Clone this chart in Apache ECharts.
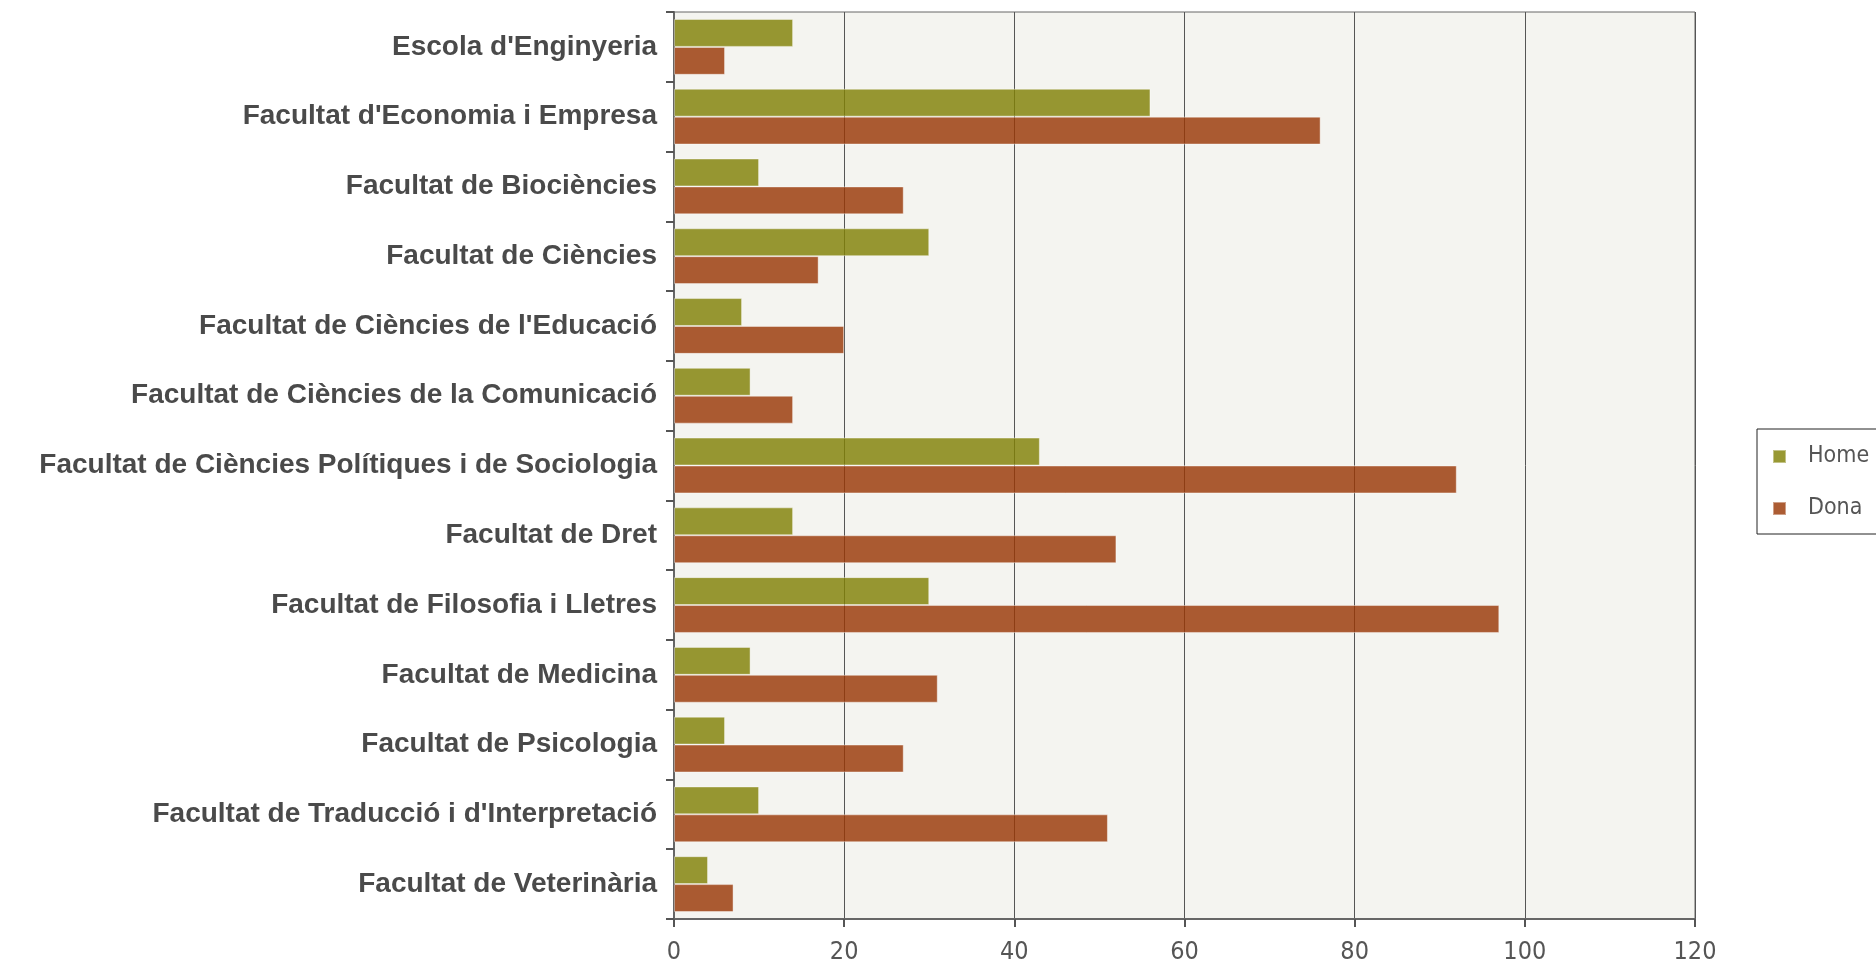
<!DOCTYPE html>
<html><head><meta charset="utf-8">
<script src="https://cdn.jsdelivr.net/npm/echarts@6/dist/echarts.min.js"></script>
<style>html,body{margin:0;padding:0;background:#fff}#c{width:1876px;height:966px}</style>
</head><body><div id="c"></div>
<script>
const categories = ["Escola d'Enginyeria","Facultat d'Economia i Empresa","Facultat de Biociències","Facultat de Ciències","Facultat de Ciències de l'Educació","Facultat de Ciències de la Comunicació","Facultat de Ciències Polítiques i de Sociologia","Facultat de Dret","Facultat de Filosofia i Lletres","Facultat de Medicina","Facultat de Psicologia","Facultat de Traducció i d'Interpretació","Facultat de Veterinària"];
const home = [14,56,10,30,8,9,43,14,30,9,6,10,4];
const dona = [6,76,27,17,20,14,92,52,97,31,27,51,7];
const xTicks = [0,20,40,60,80,100,120];

const chart = echarts.init(document.getElementById('c'), null, {renderer:'canvas'});
const barStyle = (c) => ({color:c, opacity:0.82, borderColor:'rgba(255,255,255,0.5)', borderWidth:1});
chart.setOption({
  animation:false,
  backgroundColor:'#ffffff',
  grid:{left:674,right:181,top:12,bottom:47,show:true,backgroundColor:'#f4f4f0',borderColor:'#666',borderWidth:1,containLabel:false},
  legend:{
    orient:'vertical',left:1757,top:429,
    data:['Home','Dona'],
    icon:'rect',itemWidth:13,itemHeight:13,itemGap:29,
    padding:[16,20,14,15],
    borderColor:'#222',borderWidth:1,
    textStyle:{fontFamily:'DejaVu Sans Condensed',fontSize:23,color:'#555',lineHeight:23,padding:[0,0,0,17]}
  },
  xAxis:{
    type:'value',min:xTicks[0],max:xTicks[xTicks.length-1],interval:20,
    axisLine:{show:true,lineStyle:{color:'#666',width:2}},
    axisTick:{show:true,length:8,lineStyle:{color:'#555',width:2}},
    splitLine:{show:true,lineStyle:{color:'#555',width:1}},
    axisLabel:{fontFamily:'DejaVu Sans Condensed',fontSize:25,color:'#555',margin:21}
  },
  yAxis:{
    type:'category',data:categories,inverse:true,
    axisLine:{show:true,lineStyle:{color:'#666',width:2}},
    axisTick:{show:true,length:8,lineStyle:{color:'#555',width:2}},
    axisLabel:{fontFamily:'Liberation Sans',fontWeight:'bold',fontSize:28,color:'#4a4a4a',margin:17}
  },
  series:[
    {name:'Home',type:'bar',data:home,itemStyle:barStyle('rgb(129,129,6)'),barGap:'0%',barCategoryGap:'20%'},
    {name:'Dona',type:'bar',data:dona,itemStyle:barStyle('rgb(154,56,6)'),barGap:'0%',barCategoryGap:'20%'}
  ]
});
</script></body></html>
